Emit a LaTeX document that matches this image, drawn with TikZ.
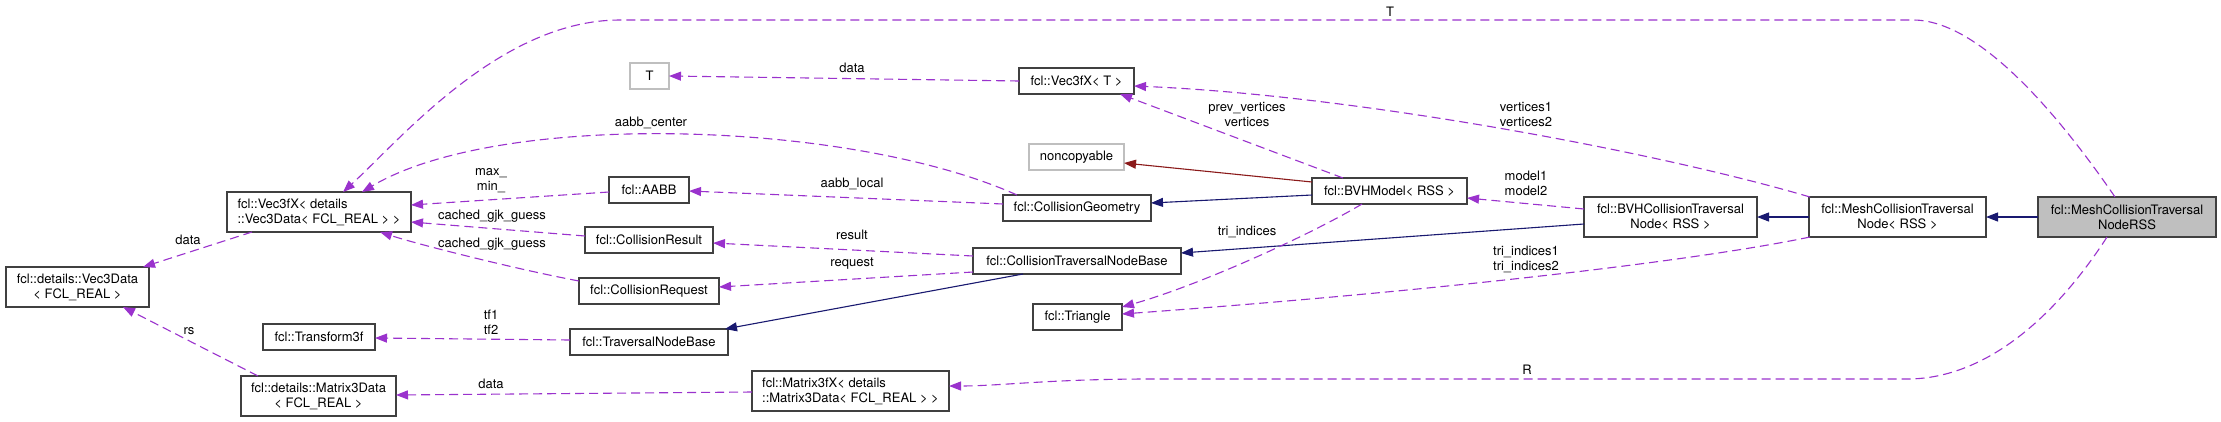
\documentclass[tikz,border=0pt]{standalone}
\usepackage{fontspec}
\setmainfont{TeX Gyre Heros}
\usetikzlibrary{arrows.meta,calc}
\definecolor{edgep}{HTML}{9A32CD}
\definecolor{edgen}{HTML}{191970}
\definecolor{edger}{HTML}{8B1A1A}
\definecolor{boxline}{HTML}{404040}
\definecolor{greyline}{HTML}{BFBFBF}
\definecolor{greyfill}{HTML}{BFBFBF}
\begin{document}
\begin{tikzpicture}[x=1pt,y=-1pt,
  every node/.style={font=\fontsize{13}{15}\selectfont, inner sep=0pt, outer sep=0pt},
  cls/.style={draw=boxline, line width=1.2pt, fill=white, align=center, minimum height=26pt},
  cls2/.style={cls, minimum height=40pt},
  ghost/.style={cls, draw=greyline},
  lbl/.style={align=center},
  member/.style={draw=edgep, line width=1.1pt, dash pattern=on 9pt off 5pt, -{Triangle[length=12pt,width=9pt]}},
  inh/.style={draw=edgen, line width=1.1pt, -{Triangle[length=12pt,width=9pt]}},
  privinh/.style={draw=edger, line width=1.1pt, -{Triangle[length=12pt,width=9pt]}}
]
\fill[white] (0,0) rectangle (2221,421);
\useasboundingbox (0,0) rectangle (2221,421);

% nodes
\node[cls2, minimum width=143pt] (vdata) at (77.5,287) {fcl::details::Vec3Data\\< FCL\_REAL >};
\node[cls2, minimum width=184pt, align=left] (vfx) at (319,212) {fcl::Vec3fX< details\\::Vec3Data< FCL\_REAL > >};
\node[cls, minimum width=112pt] (tf3) at (319,337) {fcl::Transform3f};
\node[cls2, minimum width=155pt] (m3data) at (318.5,396) {fcl::details::Matrix3Data\\< FCL\_REAL >};
\node[ghost, minimum width=39pt] (tT) at (649.5,76) {T};
\node[cls, minimum width=80pt] (aabb) at (649,190) {fcl::AABB};
\node[cls, minimum width=128pt] (cres) at (649,240) {fcl::CollisionResult};
\node[cls, minimum width=140pt] (creq) at (649,291) {fcl::CollisionRequest};
\node[cls, minimum width=158pt] (tnb) at (649,342) {fcl::TraversalNodeBase};
\node[cls2, minimum width=197pt, align=left] (m3fx) at (850.5,391) {fcl::Matrix3fX< details\\::Matrix3Data< FCL\_REAL > >};
\node[cls, minimum width=115pt] (vfxT) at (1076.5,81) {fcl::Vec3fX< T >};
\node[ghost, minimum width=95pt] (noncop) at (1076.5,157) {noncopyable};
\node[cls, minimum width=148pt] (cgeom) at (1077,208) {fcl::CollisionGeometry};
\node[cls, minimum width=208pt] (ctnb) at (1077,261) {fcl::CollisionTraversalNodeBase};
\node[cls, minimum width=89pt] (tri) at (1077.5,317) {fcl::Triangle};
\node[cls, minimum width=155pt] (bvhm) at (1389.5,191) {fcl::BVHModel< RSS >};
\node[cls2, minimum width=173pt] (bvhctn) at (1670.5,217) {fcl::BVHCollisionTraversal\\Node< RSS >};
\node[cls2, minimum width=177pt] (meshctn) at (1897.5,217) {fcl::MeshCollisionTraversal\\Node< RSS >};
\node[cls2, minimum width=178pt, fill=greyfill] (meshrss) at (2127,217) {fcl::MeshCollisionTraversal\\NodeRSS};

% waypoints
\coordinate (tA) at (1913,20);
\coordinate (tB) at (620,20);
\coordinate (rA) at (1907,379);
\coordinate (rB) at (1150,379);

% connectors
\draw[member] ($(meshrss.north)+(-12,0)$) .. controls (2060,117) and (1980,20) .. (tA) -- (tB) .. controls (500,20) and (400,140) .. ($(vfx.north)+(24,0)$);
\draw[member] ($(meshrss.south)+(-20,0)$) .. controls (2060,310) and (1990,379) .. (rA) -- (rB) .. controls (1050,379) and (1000,386) .. ($(m3fx.east)+(0,-5)$);
\draw[member] ($(meshctn.north west)+(1,0)$) .. controls (1650,150) and (1350,95) .. ($(vfxT.east)+(0,5)$);
\draw[member] ($(meshctn.south west)+(1,0)$) .. controls (1700,260) and (1450,290) .. ($(tri.east)+(0,-3)$);
\draw[inh] (meshrss.west) -- (meshctn.east);
\draw[inh] (meshctn.west) -- (bvhctn.east);
\draw[member] ($(bvhctn.west)+(0,-8)$) -- ($(bvhm.east)+(0,7)$);
\draw[inh] ($(bvhctn.west)+(0,7)$) -- ($(ctnb.east)+(0,-8)$);
\draw[member] ($(bvhm.north)+(-46.5,0)$) -- ($(vfxT.south)+(43.5,0)$);
\draw[privinh] ($(bvhm.west)+(0,-9)$) -- ($(noncop.east)+(0,6)$);
\draw[inh] ($(bvhm.west)+(0,4)$) -- ($(cgeom.east)+(0,-5)$);
\draw[member] ($(bvhm.south)+(-27.5,0)$) .. controls (1310,235) and (1200,285) .. ($(tri.east)+(0,-10)$);
\draw[member] ($(cgeom.north west)+(14,0)$) .. controls (850,120) and (500,110) .. ($(vfx.north)+(43,0)$);
\draw[member] ($(cgeom.west)+(0,-4)$) -- ($(aabb.east)+(0,1)$);
\draw[member] ($(vfxT.west)$) -- ($(tT.east)$);
\draw[member] ($(aabb.west)+(0,2)$) -- ($(vfx.east)+(0,-7)$);
\draw[member] ($(cres.west)+(0,-4)$) -- ($(vfx.east)+(0,10)$);
\draw[member] ($(creq.west)+(0,-10)$) .. controls (520,270) and (420,245) .. ($(vfx.south east)+(-31,0)$);
\draw[member] ($(ctnb.west)+(0,-5)$) -- ($(cres.east)+(0,3)$);
\draw[member] ($(ctnb.west)+(0,11)$) -- ($(creq.east)+(0,-4)$);
\draw[inh] ($(ctnb.south)+(-54,0)$) -- ($(tnb.north east)+(-3,0)$);
\draw[member] ($(tnb.west)+(0,-2)$) -- ($(tf3.east)+(0,1)$);
\draw[member] ($(m3fx.west)+(0,1)$) -- ($(m3data.east)+(0,-1)$);
\draw[member] ($(vfx.south west)+(25,0)$) -- ($(vdata.north east)+(-6,0)$);
\draw[member] ($(m3data.north west)+(17,0)$) -- ($(vdata.south)+(45.5,0)$);

% labels
\node[lbl] (lT) at (1390,12) {T};
\node[lbl] (lR) at (1527,370) {R};
\node[lbl] (ldataT) at (852,68) {data};
\node[lbl] (lcenter) at (651,123) {aabb\_center};
\node[lbl] (lmax) at (491,180.5) {max\_\\min\_};
\node[lbl] (lgjk1) at (492,216) {cached\_gjk\_guess};
\node[lbl] (lgjk2) at (492,244) {cached\_gjk\_guess};
\node[lbl] (llocal) at (852,184) {aabb\_local};
\node[lbl] (lres) at (852,235) {result};
\node[lbl] (lreq) at (852,264) {request};
\node[lbl] (ltf) at (491,322.5) {tf1\\tf2};
\node[lbl] (ldataM) at (491,384) {data};
\node[lbl] (ldataV) at (188,240) {data};
\node[lbl] (lrs) at (189,331) {rs};
\node[lbl] (lprev) at (1247,114) {prev\_vertices\\vertices};
\node[lbl] (ltri) at (1247,232) {tri\_indices};
\node[lbl] (lvert) at (1526,114.5) {vertices1\\vertices2};
\node[lbl] (lmodel) at (1526,183.5) {model1\\model2};
\node[lbl] (ltri12) at (1526,259.5) {tri\_indices1\\tri\_indices2};
\end{tikzpicture}
\end{document}
